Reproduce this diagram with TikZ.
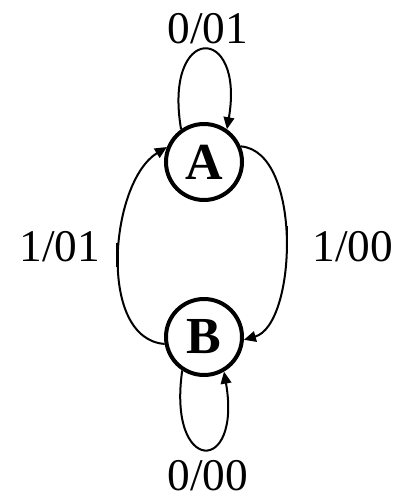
\documentclass[tikz,border=0pt]{standalone}
\usepackage{fontspec}
\setmainfont{Liberation Serif}
\usetikzlibrary{arrows.meta}

\begin{document}
\begin{tikzpicture}[
    x=0.75pt, y=-0.75pt,
    state/.style={draw, circle, line width=3pt, minimum size=57pt, inner sep=0pt,
                  font=\fontsize{39}{44}\selectfont\bfseries},
    arrow/.style={-{Triangle[length=9pt, width=8pt]}, line width=1.5pt},
    tick/.style={line width=1.8pt},
    label/.style={font=\fontsize{34}{40}\selectfont, inner sep=0pt}
  ]
    \useasboundingbox (0,0) rectangle (405,503);

    % States
    \node[state] (A) at (204,162) {A};
    \node[state] (B) at (204,337) {B};

    % Self loops
    \draw[arrow] (A.125) .. controls +(-18,-106) and +(18,-106) .. (A.55);
    \draw[arrow] (B.237) .. controls +(-15,104) and +(18,104) .. (B.300);

    % Transitions between A and B
    \draw[arrow] (B.190) .. controls +(-68,-5) and +(-57,35) .. (A.158)
      coordinate[pos=0.5] (mL);
    \draw[arrow] (A.23) .. controls +(62,5) and +(53,-15) .. (B.356)
      coordinate[pos=0.5] (mR);
    \draw[tick] ([xshift=-1pt, yshift=10pt]mL) -- ([xshift=-1pt, yshift=-8pt]mL);
    \draw[tick] ([xshift=1pt, yshift=10pt]mR) -- ([xshift=1pt, yshift=-8pt]mR);

    % Labels
    \node[label] (lA)  at (208,29)  {0/01};
    \node[label] (lB)  at (208,476) {0/00};
    \node[label] (lBA) at (60,247)  {1/01};
    \node[label] (lAB) at (353,247) {1/00};
\end{tikzpicture}
\end{document}
